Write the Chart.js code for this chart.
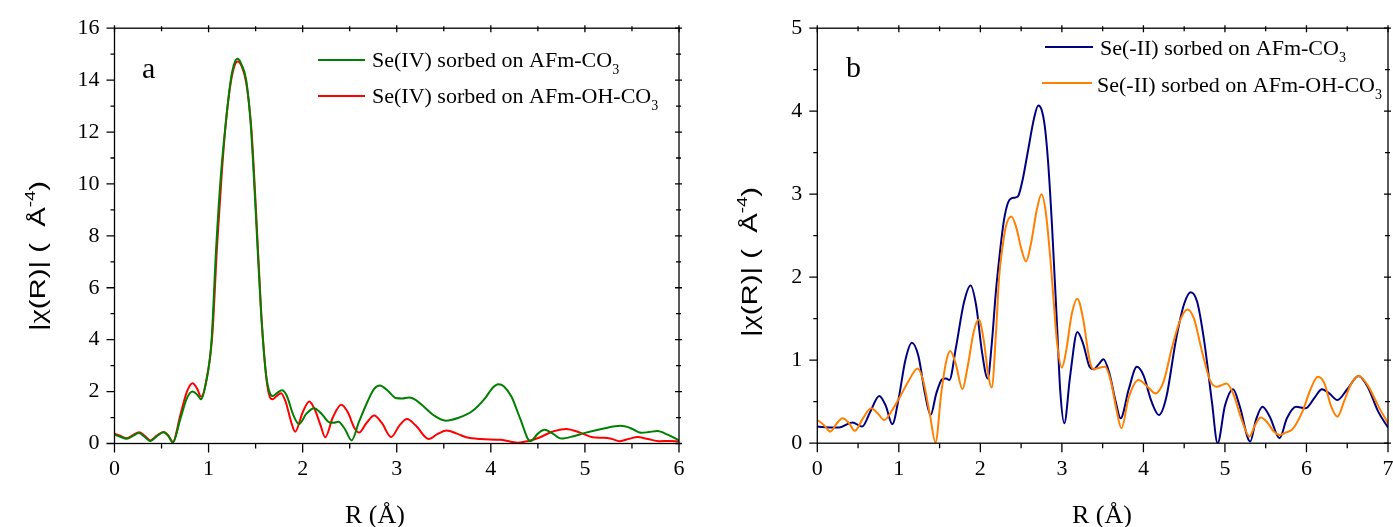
<!DOCTYPE html>
<html>
<head>
<meta charset="utf-8">
<script src="https://cdn.jsdelivr.net/npm/chart.js@4.4.1/dist/chart.umd.min.js"></script>
<style>
  html, body { margin: 0; padding: 0; background: #fff; }
  #wrap { position: relative; width: 1393px; height: 527px; overflow: hidden; }
  .panel { position: absolute; top: 0; height: 527px; }
  #pa { left: 0; width: 700px; }
  #pb { left: 700px; width: 693px; }
</style>
</head>
<body>
<div id="wrap">
  <div class="panel" id="pa"><canvas id="chartA"></canvas></div>
  <div class="panel" id="pb"><canvas id="chartB"></canvas></div>
</div>
<script>
// ---- panel a : Se(IV) ----
var rSe4Co3 = [0, 0.06, 0.13, 0.20, 0.26, 0.32, 0.38, 0.45, 0.52, 0.57, 0.62, 0.70, 0.77, 0.83, 0.88, 0.92, 0.97, 1.03, 1.08, 1.13, 1.19, 1.24, 1.28, 1.31, 1.35, 1.40, 1.45, 1.50, 1.555, 1.61, 1.65, 1.68, 1.73, 1.78, 1.83, 1.90, 1.96, 2.04, 2.12, 2.20, 2.28, 2.33, 2.38, 2.45, 2.52, 2.60, 2.69, 2.76, 2.82, 2.90, 2.99, 3.06, 3.13, 3.20, 3.30, 3.40, 3.52, 3.65, 3.80, 3.94, 4.02, 4.08, 4.14, 4.22, 4.31, 4.42, 4.50, 4.57, 4.65, 4.75, 4.88, 5.00, 5.20, 5.38, 5.48, 5.60, 5.68, 5.77, 5.88, 6.00];
var chiSe4Co3 = [0.34, 0.26, 0.18, 0.30, 0.40, 0.26, 0.09, 0.28, 0.43, 0.30, 0.04, 0.95, 1.75, 2.00, 1.88, 1.70, 2.30, 3.90, 7.50, 10.3, 12.6, 14.1, 14.7, 14.82, 14.6, 14.0, 12.2, 9.0, 5.2, 2.67, 1.95, 1.83, 1.95, 2.05, 1.85, 1.10, 0.75, 1.15, 1.36, 1.15, 0.82, 0.80, 0.84, 0.55, 0.12, 0.85, 1.62, 2.10, 2.23, 2.05, 1.75, 1.73, 1.77, 1.68, 1.38, 1.07, 0.88, 0.98, 1.24, 1.75, 2.15, 2.28, 2.20, 1.80, 0.98, 0.09, 0.38, 0.53, 0.40, 0.19, 0.28, 0.41, 0.58, 0.68, 0.60, 0.41, 0.44, 0.48, 0.34, 0.12];

var rSe4OhCo3 = [0, 0.06, 0.13, 0.20, 0.26, 0.32, 0.38, 0.45, 0.52, 0.57, 0.62, 0.70, 0.77, 0.83, 0.88, 0.92, 0.98, 1.04, 1.09, 1.14, 1.19, 1.24, 1.28, 1.31, 1.35, 1.40, 1.455, 1.505, 1.56, 1.615, 1.65, 1.68, 1.72, 1.77, 1.82, 1.88, 1.92, 2.00, 2.07, 2.13, 2.19, 2.24, 2.32, 2.41, 2.48, 2.55, 2.60, 2.68, 2.76, 2.84, 2.94, 3.03, 3.11, 3.20, 3.34, 3.44, 3.53, 3.64, 3.74, 3.90, 4.10, 4.20, 4.29, 4.40, 4.51, 4.65, 4.80, 4.95, 5.08, 5.20, 5.28, 5.37, 5.47, 5.56, 5.67, 5.79, 5.90, 6.00];
var chiSe4OhCo3 = [0.38, 0.30, 0.20, 0.33, 0.43, 0.30, 0.12, 0.30, 0.44, 0.32, 0.06, 1.10, 2.00, 2.32, 2.10, 1.80, 2.50, 4.20, 7.60, 10.4, 12.6, 14.0, 14.6, 14.72, 14.55, 13.9, 12.1, 8.9, 5.0, 2.5, 1.80, 1.70, 1.82, 1.94, 1.60, 0.80, 0.45, 1.20, 1.62, 1.30, 0.70, 0.24, 1.00, 1.49, 1.20, 0.60, 0.42, 0.80, 1.08, 0.80, 0.25, 0.70, 0.94, 0.70, 0.17, 0.38, 0.50, 0.38, 0.24, 0.17, 0.14, 0.08, 0.03, 0.10, 0.22, 0.45, 0.56, 0.42, 0.24, 0.22, 0.18, 0.09, 0.18, 0.25, 0.17, 0.09, 0.10, 0.08];

var ticksAX = [0, 1, 2, 3, 4, 5, 6];
var minorAX = [0.5, 1.5, 2.5, 3.5, 4.5, 5.5];
var ticksAY = [0, 2, 4, 6, 8, 10, 12, 14, 16];
var minorAY = [1, 3, 5, 7, 9, 11, 13, 15];

// ---- panel b : Se(-II) ----
var rSe2Co3 = [0, 0.15, 0.27, 0.43, 0.55, 0.65, 0.76, 0.84, 0.92, 1.00, 1.08, 1.16, 1.24, 1.32, 1.39, 1.46, 1.53, 1.58, 1.62, 1.70, 1.80, 1.88, 1.95, 2.02, 2.09, 2.14, 2.19, 2.24, 2.29, 2.34, 2.38, 2.43, 2.47, 2.52, 2.58, 2.66, 2.71, 2.75, 2.79, 2.83, 2.88, 2.94, 2.98, 3.03, 3.10, 3.19, 3.26, 3.34, 3.39, 3.45, 3.51, 3.58, 3.66, 3.72, 3.82, 3.92, 4.00, 4.10, 4.19, 4.28, 4.40, 4.50, 4.58, 4.66, 4.75, 4.84, 4.91, 5.00, 5.10, 5.18, 5.31, 5.38, 5.46, 5.55, 5.67, 5.76, 5.87, 5.99, 6.10, 6.19, 6.28, 6.38, 6.50, 6.64, 6.75, 6.88, 7.00];
var chiSe2Co3 = [0.20, 0.19, 0.19, 0.25, 0.20, 0.38, 0.57, 0.45, 0.23, 0.55, 1.00, 1.21, 1.05, 0.60, 0.34, 0.60, 0.77, 0.78, 0.76, 1.15, 1.70, 1.90, 1.65, 1.10, 0.78, 1.20, 1.82, 2.30, 2.69, 2.90, 2.95, 2.96, 2.99, 3.18, 3.50, 3.92, 4.07, 4.02, 3.82, 3.40, 2.60, 1.43, 0.63, 0.24, 0.80, 1.34, 1.20, 0.92, 0.89, 0.95, 1.01, 0.85, 0.50, 0.30, 0.65, 0.92, 0.82, 0.50, 0.34, 0.55, 1.25, 1.68, 1.82, 1.70, 1.20, 0.50, 0.00, 0.45, 0.65, 0.45, 0.02, 0.28, 0.44, 0.32, 0.06, 0.30, 0.44, 0.42, 0.55, 0.65, 0.60, 0.52, 0.65, 0.81, 0.68, 0.38, 0.19];

var rSe2OhCo3 = [0, 0.08, 0.16, 0.24, 0.31, 0.39, 0.46, 0.56, 0.66, 0.74, 0.82, 0.92, 1.02, 1.12, 1.23, 1.30, 1.38, 1.45, 1.52, 1.58, 1.63, 1.70, 1.78, 1.84, 1.92, 1.98, 2.04, 2.10, 2.14, 2.19, 2.23, 2.27, 2.31, 2.38, 2.44, 2.50, 2.56, 2.62, 2.69, 2.75, 2.80, 2.86, 2.90, 2.94, 3.00, 3.05, 3.12, 3.19, 3.26, 3.34, 3.39, 3.46, 3.53, 3.60, 3.67, 3.73, 3.82, 3.94, 4.05, 4.15, 4.25, 4.35, 4.45, 4.54, 4.62, 4.72, 4.82, 4.90, 4.96, 5.02, 5.10, 5.20, 5.30, 5.37, 5.44, 5.52, 5.60, 5.67, 5.75, 5.83, 5.95, 6.05, 6.14, 6.22, 6.30, 6.38, 6.46, 6.55, 6.64, 6.75, 6.88, 7.00];
var chiSe2OhCo3 = [0.28, 0.22, 0.14, 0.24, 0.30, 0.24, 0.15, 0.30, 0.42, 0.36, 0.28, 0.40, 0.57, 0.75, 0.90, 0.75, 0.35, 0.01, 0.60, 0.98, 1.11, 0.95, 0.65, 0.90, 1.35, 1.49, 1.25, 0.80, 0.67, 1.30, 2.00, 2.35, 2.60, 2.73, 2.60, 2.35, 2.19, 2.40, 2.80, 3.00, 2.80, 2.21, 1.70, 1.22, 0.91, 1.10, 1.55, 1.74, 1.50, 1.00, 0.89, 0.91, 0.92, 0.75, 0.40, 0.18, 0.55, 0.76, 0.68, 0.60, 0.75, 1.15, 1.48, 1.61, 1.50, 1.10, 0.75, 0.68, 0.70, 0.72, 0.60, 0.30, 0.08, 0.22, 0.31, 0.25, 0.14, 0.10, 0.13, 0.17, 0.38, 0.65, 0.80, 0.72, 0.45, 0.32, 0.50, 0.72, 0.81, 0.70, 0.45, 0.24];

var ticksBX = [0, 1, 2, 3, 4, 5, 6, 7];
var minorBX = [0.5, 1.5, 2.5, 3.5, 4.5, 5.5, 6.5];
var ticksBY = [0, 1, 2, 3, 4, 5];
var minorBY = [0.5, 1.5, 2.5, 3.5, 4.5];

var SERIF = '"Liberation Serif", "Times New Roman", serif';
var SANS = '"Liberation Sans", Arial, sans-serif';

function pts(xs, ys) {
  return xs.map(function(x, i) { return {x: x, y: ys[i]}; });
}

// y title pieces: text, font, baseline shift
var yTitleParts = [
  ['|', '22px ' + SANS, 0],
  ['\u03c7', '24px ' + SERIF, 0],
  ['(R)| (  \u00c5', '22px ' + SANS, 0],
  ['-4', '14px ' + SANS, -10],
  [')', '22px ' + SANS, 0]
];

// box, ticks, legend, titles
var decor = {
  id: 'decor',
  afterDraw: function(chart, args, o) {
    var ctx = chart.ctx, a = chart.chartArea;
    var xs = chart.scales.x, ys = chart.scales.y;
    ctx.save();
    ctx.strokeStyle = '#000';
    ctx.lineWidth = 1.3;
    ctx.strokeRect(a.left, a.top, a.right - a.left, a.bottom - a.top);
    ctx.beginPath();
    o.xMajor.forEach(function(v) {
      var p = xs.getPixelForValue(v);
      ctx.moveTo(p, a.bottom); ctx.lineTo(p, a.bottom + 9);
      ctx.moveTo(p, a.top - 3); ctx.lineTo(p, a.top + 4);
    });
    o.xMinor.forEach(function(v) {
      var p = xs.getPixelForValue(v);
      ctx.moveTo(p, a.bottom); ctx.lineTo(p, a.bottom + 5);
      ctx.moveTo(p, a.top - 2); ctx.lineTo(p, a.top + 3);
    });
    o.yMajor.forEach(function(v) {
      var p = ys.getPixelForValue(v);
      ctx.moveTo(a.left, p); ctx.lineTo(a.left - 8, p);
      ctx.moveTo(a.right - 4, p); ctx.lineTo(a.right + 3, p);
    });
    o.yMinor.forEach(function(v) {
      var p = ys.getPixelForValue(v);
      ctx.moveTo(a.left, p); ctx.lineTo(a.left - 4, p);
      ctx.moveTo(a.right - 3, p); ctx.lineTo(a.right + 2, p);
    });
    ctx.stroke();

    // panel letter
    ctx.fillStyle = '#000';
    ctx.textBaseline = 'alphabetic';
    ctx.textAlign = 'left';
    ctx.font = '30px ' + SERIF;
    ctx.fillText(o.letter, o.letterX, o.letterY);

    // legend
    o.legend.forEach(function(it) {
      ctx.strokeStyle = it.color;
      ctx.lineWidth = 2;
      ctx.beginPath();
      ctx.moveTo(it.x0, it.ly); ctx.lineTo(it.x1, it.ly);
      ctx.stroke();
      ctx.font = '22px ' + SERIF;
      ctx.fillText(it.text, it.tx, it.ty);
      var w = ctx.measureText(it.text).width;
      ctx.font = '14px ' + SERIF;
      ctx.fillText(it.sub, it.tx + w, it.ty + 7);
    });

    // x title
    ctx.font = '26px ' + SERIF;
    ctx.textAlign = 'center';
    ctx.fillText('R (\u00c5)', o.xTitleX, 523);

    // y title (rotated, fitted to length)
    ctx.translate(o.yTitleX, o.yTitleY);
    ctx.rotate(-Math.PI / 2);
    ctx.textAlign = 'left';
    var tot = 0;
    yTitleParts.forEach(function(p) { ctx.font = p[1]; tot += ctx.measureText(p[0]).width; });
    ctx.scale(o.yTitleLen / tot, 1);
    var cx = -tot / 2;
    yTitleParts.forEach(function(p) {
      ctx.font = p[1];
      ctx.fillText(p[0], cx, p[2]);
      cx += ctx.measureText(p[0]).width;
    });
    ctx.restore();
  }
};

function makeChart(id, datasets, cfg) {
  return new Chart(document.getElementById(id).getContext('2d'), {
    type: 'line',
    data: { datasets: datasets },
    plugins: [decor],
    options: {
      responsive: true,
      maintainAspectRatio: false,
      animation: false,
      layout: { padding: { left: 0, top: cfg.top, right: cfg.right, bottom: 0 } },
      plugins: { legend: { display: false }, tooltip: { enabled: false }, decor: cfg.decor },
      elements: { point: { radius: 0 } },
      scales: {
        x: {
          type: 'linear', min: cfg.xMin, max: cfg.xMax,
          afterBuildTicks: function(s) { s.ticks = cfg.xTicks.map(function(v) { return {value: v}; }); },
          afterFit: function(s) { s.height = cfg.xHeight; s.paddingLeft = 0; s.paddingRight = 0; },
          grid: { display: false, drawTicks: false },
          border: { display: false },
          ticks: { color: '#000', font: { family: SERIF, size: 22 }, padding: 13, maxRotation: 0, autoSkip: false }
        },
        y: {
          type: 'linear', min: cfg.yMin, max: cfg.yMax,
          afterBuildTicks: function(s) { s.ticks = cfg.yTicks.map(function(v) { return {value: v}; }); },
          afterFit: function(s) { s.width = cfg.yWidth; },
          grid: { display: false, drawTicks: false },
          border: { display: false },
          ticks: { color: '#000', font: { family: SERIF, size: 22 }, padding: 15 }
        }
      }
    }
  });
}

function line(label, xs, ys, color, order) {
  return {
    label: label, data: pts(xs, ys), borderColor: color, backgroundColor: color,
    borderWidth: 2, cubicInterpolationMode: 'monotone', fill: false, order: order
  };
}

makeChart('chartA', [
  line('Se(IV) sorbed on AFm-CO3', rSe4Co3, chiSe4Co3, '#008000', 0),
  line('Se(IV) sorbed on AFm-OH-CO3', rSe4OhCo3, chiSe4OhCo3, '#ff0000', 1)
], {
  top: 23.5, right: 21, xHeight: 83.5, yWidth: 114.5,
  xMin: 0, xMax: 6, yMin: 0, yMax: 16, xTicks: ticksAX, yTicks: ticksAY,
  decor: {
    xMajor: ticksAX, xMinor: minorAX, yMajor: ticksAY, yMinor: minorAY,
    letter: 'a', letterX: 142, letterY: 78,
    legend: [
      { color: '#008000', x0: 318, x1: 365, ly: 60, text: 'Se(IV) sorbed on AFm-CO', sub: '3', tx: 372, ty: 67 },
      { color: '#ff0000', x0: 318, x1: 365, ly: 96, text: 'Se(IV) sorbed on AFm-OH-CO', sub: '3', tx: 372, ty: 103 }
    ],
    xTitleX: 375, yTitleX: 45, yTitleY: 256, yTitleLen: 150
  }
});

makeChart('chartB', [
  line('Se(-II) sorbed on AFm-CO3', rSe2Co3, chiSe2Co3, '#000080', 1),
  line('Se(-II) sorbed on AFm-OH-CO3', rSe2OhCo3, chiSe2OhCo3, '#ff8000', 0)
], {
  top: 20.7, right: 5, xHeight: 83.8, yWidth: 117.3,
  xMin: 0, xMax: 7, yMin: 0, yMax: 5, xTicks: ticksBX, yTicks: ticksBY,
  decor: {
    xMajor: ticksBX, xMinor: minorBX, yMajor: ticksBY, yMinor: minorBY,
    letter: 'b', letterX: 146, letterY: 77,
    legend: [
      { color: '#000080', x0: 345, x1: 393, ly: 47, text: 'Se(-II) sorbed on AFm-CO', sub: '3', tx: 400, ty: 55 },
      { color: '#ff8000', x0: 342, x1: 392, ly: 83, text: 'Se(-II) sorbed on AFm-OH-CO', sub: '3', tx: 397, ty: 92 }
    ],
    xTitleX: 402, yTitleX: 57, yTitleY: 262, yTitleLen: 150
  }
});
</script>
</body>
</html>
